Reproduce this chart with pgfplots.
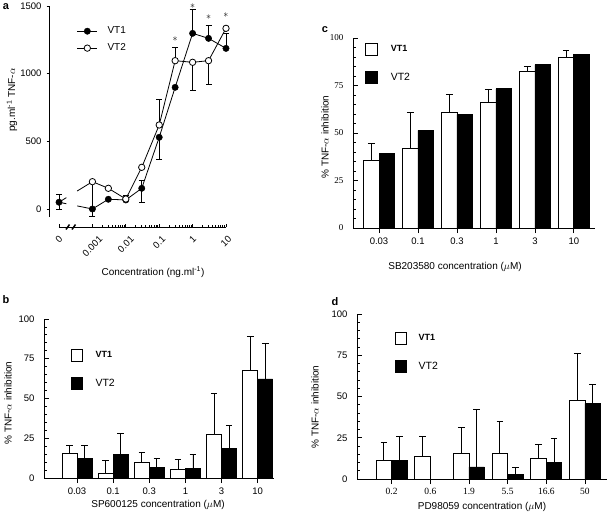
\documentclass[border=0pt]{standalone}
\usepackage{fontspec}
\setmainfont{Liberation Sans}
\newfontfamily\serifnum{Liberation Serif}
\usepackage{graphicx}
\usepackage{pgfplots}
\pgfplotsset{compat=1.18}

\newcommand{\tck}{\fontsize{9.5}{11}\selectfont}
\newcommand{\lab}{\fontsize{10}{12}\selectfont}

\pgfplotsset{
  panel/.style={
    scale only axis, anchor=south west,
    axis x line*=bottom, axis y line*=left,
    axis line style={-, line width=1pt},
    tick style={black, line width=0.9pt},
    /pgf/number format/assume math mode=true,
    tick label style={font=\tck},
  },
  barpanel/.style={
    panel, ymin=0, ymax=100,
    ytick={0,25,50,75,100}, minor y tick num=4,
    xtick={0,...,5},
    xtick align=outside, ytick align=inside,
    major tick length=5pt, minor tick length=3pt,
    yticklabel style={xshift=-6pt},
    xticklabel style={yshift=-1pt},
    legend style={draw=none, fill=none, inner sep=0pt, outer sep=0pt,
      row sep=15.5pt, nodes={inner sep=0pt, anchor=west}},
    legend cell align=left,
  },
  % bars are moved sideways with xshift so that their error bars move with them
  barbase/.style={ybar, bar width=#1, bar shift=0pt, draw=black, line width=0.9pt},
  witherr/.style={error bars/.cd, y dir=plus, y explicit, error mark=|,
    error bar style={line width=0.9pt}, error mark options={mark size=3.3pt, line width=0.9pt}},
  erra/.style={only marks, mark=none, black, error bars/.cd, y dir=both, y explicit, error mark=|,
    error bar style={line width=0.8pt}, error mark options={mark size=3pt, line width=0.8pt}},
}

\begin{document}
\begin{tikzpicture}
\useasboundingbox (0,0) rectangle (608pt,-515pt);

% ---------------- panel a ----------------
\begin{axis}[panel,
  at={(50pt,-227pt)}, width=176pt, height=221pt,
  xmode=log, xmin=5.37e-5, xmax=10, ymin=-133, ymax=1500,
  x axis line style={shorten <=9pt}, y axis line style={shorten <=10pt},
  xtick={1e-4,1e-3,1e-2,1e-1,1,10},
  xticklabels={\rotatebox{45}{0},\rotatebox{45}{0.001},\rotatebox{45}{0.01},\rotatebox{45}{0.1},\rotatebox{45}{1},\rotatebox{45}{10}},
  minor xtick={0.002,0.003,0.004,0.005,0.006,0.007,0.008,0.009,
    0.02,0.03,0.04,0.05,0.06,0.07,0.08,0.09,
    0.2,0.3,0.4,0.5,0.6,0.7,0.8,0.9,2,3,4,5,6,7,8,9},
  xticklabel style={anchor=north, yshift=-5pt},
  ytick={0,500,1000,1500},
  scaled y ticks=false,
  yticklabel style={/pgf/number format/set thousands separator={}, xshift=-1.5pt},
  xtick align=inside, ytick align=outside,
  major tick length=3.5pt, minor tick length=2pt,
  clip=false,
  legend style={draw=none, fill=none, inner sep=0pt, outer sep=0pt,
    at={(rel axis cs:0.153,0.905)}, anchor=north west,
    row sep=8.5pt, nodes={inner sep=0pt, anchor=west}, font=\fontsize{10}{12}\selectfont},
  legend cell align=left,
]
\addlegendimage{legend image code/.code={\draw[black, line width=0.8pt] (0pt,0pt) -- (20pt,0pt);
    \fill[black] (10pt,0pt) circle (3.2pt); \path (30pt,0pt);}}
\addlegendimage{legend image code/.code={\draw[black, line width=0.8pt] (0pt,0pt) -- (20pt,0pt);
    \draw[black, fill=white, line width=0.8pt] (10pt,0pt) circle (3.2pt); \path (30pt,0pt);}}
\legend{VT1,VT2}

% connecting lines (cut at the axis break)
\addplot[forget plot, black, line width=0.8pt, mark=none, unbounded coords=jump] coordinates {
  (1e-4,50) (1.66e-4,39) (2.5e-4,nan) (3.5e-4,23) (0.001,0) (0.003,72) (0.01,67)
  (0.03,153) (0.1,530) (0.3,899) (1,1298) (3,1261) (10,1187)};
\addplot[forget plot, black, line width=0.8pt, mark=none, unbounded coords=jump] coordinates {
  (1e-4,50) (1.66e-4,84) (2.5e-4,nan) (3.5e-4,133) (0.001,202) (0.003,153) (0.01,74)
  (0.03,308) (0.1,621) (0.3,1096) (1,1084) (3,1096) (10,1335)};

% error bars VT1
\addplot[forget plot, erra] coordinates {
  (1e-4,50) += (0,55) -= (0,55)
  (0.001,0) += (0,0) -= (0,57)
  (0.03,153) += (0,60) -= (0,104)
  (0.1,530) += (0,0) -= (0,167)
  (1,1298) += (0,180) -= (0,0)
  (3,1261) += (0,93) -= (0,0)
  (10,1187) += (0,110) -= (0,0)};
% error bars VT2
\addplot[forget plot, erra] coordinates {
  (0.001,202) += (0,0) -= (0,200)
  (0.01,74) += (0,29) -= (0,0)
  (0.1,621) += (0,190) -= (0,0)
  (0.3,1096) += (0,96) -= (0,0)
  (1,1084) += (0,0) -= (0,205)
  (3,1096) += (0,0) -= (0,172)};

% markers
\addplot[forget plot, only marks, mark=*, mark size=3.2pt, black] coordinates {
  (1e-4,50) (0.001,0) (0.003,72) (0.01,67) (0.03,153) (0.1,530) (0.3,899) (1,1298) (3,1261) (10,1187)};
\addplot[forget plot, only marks, mark=*, mark size=3.2pt, draw=black, fill=white, line width=0.8pt] coordinates {
  (0.001,202) (0.003,153) (0.01,74) (0.03,308) (0.1,621) (0.3,1096) (1,1084) (3,1096) (10,1335)};

% significance stars
\node[inner sep=0pt, font=\fontsize{10}{10}\selectfont] at (axis cs:0.3,1254) {$\ast$};
\node[inner sep=0pt, font=\fontsize{10}{10}\selectfont] at (axis cs:1,1500) {$\ast$};
\node[inner sep=0pt, font=\fontsize{10}{10}\selectfont] at (axis cs:3,1421) {$\ast$};
\node[inner sep=0pt, font=\fontsize{10}{10}\selectfont] at (axis cs:10,1434) {$\ast$};
\end{axis}

% ---------------- panel b ----------------
\begin{axis}[barpanel,
  at={(44pt,-478pt)}, width=230pt, height=159pt,
  xmin=-0.914, xmax=5.45,
  xticklabels={0.03,0.1,0.3,1,3,10},
  legend style={at={(rel axis cs:0.117,0.811)}, anchor=north west},
]
\addlegendimage{legend image code/.code={\draw[fill=white, draw=black, line width=0.9pt] (0pt,-6pt) rectangle (11.5pt,6pt); \path (24pt,0pt);}}
\addlegendimage{legend image code/.code={\draw[fill=black, draw=black, line width=0.9pt] (0pt,-6pt) rectangle (11.5pt,6pt); \path (24pt,0pt);}}
\legend{\fontsize{9}{11}\selectfont\bfseries VT1, \fontsize{10.5}{12}\selectfont VT2}
\addplot[forget plot, barbase=15pt, xshift=-7.5pt, fill=white, witherr] coordinates {
  (0,15.6) +- (0,4.8) (1,2.9) +- (0,8.3) (2,9.7) +- (0,6.5)
  (3,5.3) +- (0,6.1) (4,27.4) +- (0,25.6) (5,67.4) +- (0,21.4)};
\addplot[forget plot, barbase=15pt, xshift=7.5pt, fill=black, witherr] coordinates {
  (0,12.4) +- (0,8.0) (1,15.0) +- (0,13.2) (2,6.5) +- (0,5.9)
  (3,5.7) +- (0,9.0) (4,18.5) +- (0,14.8) (5,62.3) +- (0,22.1)};
\end{axis}

% ---------------- panel c ----------------
\begin{axis}[barpanel,
  at={(353pt,-228pt)}, width=242pt, height=190pt,
  xmin=-0.667, xmax=5.54,
  xticklabels={0.03,0.1,0.3,1,3,10},
  yticklabel style={font=\serifnum\fontsize{9}{10}\selectfont},
  legend style={at={(rel axis cs:0.05,0.974)}, anchor=north west},
]
\addlegendimage{legend image code/.code={\draw[fill=white, draw=black, line width=0.9pt] (0pt,-6pt) rectangle (12pt,6pt); \path (25pt,0pt);}}
\addlegendimage{legend image code/.code={\draw[fill=black, draw=black, line width=0.9pt] (0pt,-6pt) rectangle (12pt,6pt); \path (25pt,0pt);}}
\legend{\fontsize{9}{11}\selectfont\bfseries VT1, \fontsize{10.5}{12}\selectfont VT2}
\addplot[forget plot, barbase=15.5pt, xshift=-7.75pt, fill=white, witherr] coordinates {
  (0,35.6) +- (0,9.1) (1,42.1) +- (0,18.9) (2,61.0) +- (0,9.2)
  (3,66.0) +- (0,7.0) (4,82.5) +- (0,2.6) (5,90.0) +- (0,3.2)};
\addplot[forget plot, barbase=15.5pt, xshift=7.75pt, fill=black] coordinates {
  (0,39.3) (1,51.4) (2,59.8) (3,73.2) (4,86.0) (5,91.2)};
\end{axis}

% ---------------- panel d ----------------
\begin{axis}[barpanel,
  at={(357pt,-479pt)}, width=250pt, height=165pt,
  xmin=-0.897, xmax=5.57,
  xticklabels={0.2,0.6,1.9,5.5,16.6,50},
  xticklabel style={font=\serifnum\fontsize{9.5}{11}\selectfont},
  legend style={at={(rel axis cs:0.152,0.891)}, anchor=north west},
]
\addlegendimage{legend image code/.code={\draw[fill=white, draw=black, line width=0.9pt] (0pt,-6pt) rectangle (11pt,6pt); \path (23pt,0pt);}}
\addlegendimage{legend image code/.code={\draw[fill=black, draw=black, line width=0.9pt] (0pt,-6pt) rectangle (11pt,6pt); \path (23pt,0pt);}}
\legend{\fontsize{9}{11}\selectfont\bfseries VT1, \fontsize{10.5}{12}\selectfont VT2}
\addplot[forget plot, barbase=15.5pt, xshift=-7.75pt, fill=white, witherr] coordinates {
  (0,11.4) +- (0,11.0) (1,13.4) +- (0,12.4) (2,15.7) +- (0,15.6)
  (3,15.7) +- (0,19.3) (4,12.2) +- (0,8.5) (5,47.8) +- (0,28.4)};
\addplot[forget plot, barbase=15.5pt, xshift=7.75pt, fill=black, witherr] coordinates {
  (0,11.4) +- (0,14.4) (2,7.3) +- (0,34.7)
  (3,3.0) +- (0,4.1) (4,10.2) +- (0,14.4) (5,45.9) +- (0,11.6)};
\end{axis}

% axis break on panel a
\draw[line width=1.5pt] (66pt,-229.5pt) -- (69.5pt,-224.5pt);
\draw[line width=1.5pt] (72pt,-229.5pt) -- (75.5pt,-224.5pt);

% panel letters
\node[font=\bfseries\fontsize{11}{13}\selectfont] at (6pt,-7pt) {a};
\node[font=\bfseries\fontsize{11}{13}\selectfont] at (6pt,-300pt) {b};
\node[font=\bfseries\fontsize{11}{13}\selectfont] at (325pt,-30pt) {c};
\node[font=\bfseries\fontsize{11}{13}\selectfont] at (335pt,-302pt) {d};

% axis titles
\node[rotate=90, font=\lab] at (12pt,-100pt) {pg.ml\textsuperscript{-1} TNF-$\alpha$};
\node[font=\lab] at (153pt,-272pt) {Concentration (ng.ml\textsuperscript{-1})};
\node[rotate=90, font=\lab] at (8pt,-403pt) {\% TNF-$\alpha$ inhibition};
\node[font=\lab] at (158pt,-505pt) {SP600125 concentration ($\mu$M)};
\node[rotate=90, font=\lab] at (325pt,-137pt) {\% TNF-$\alpha$ inhibition};
\node[font=\lab] at (455pt,-267pt) {SB203580 concentration ($\mu$M)};
\node[rotate=90, font=\lab] at (315pt,-407pt) {\% TNF-$\alpha$ inhibition};
\node[font=\lab] at (482pt,-507pt) {PD98059 concentration ($\mu$M)};
\end{tikzpicture}
\end{document}
